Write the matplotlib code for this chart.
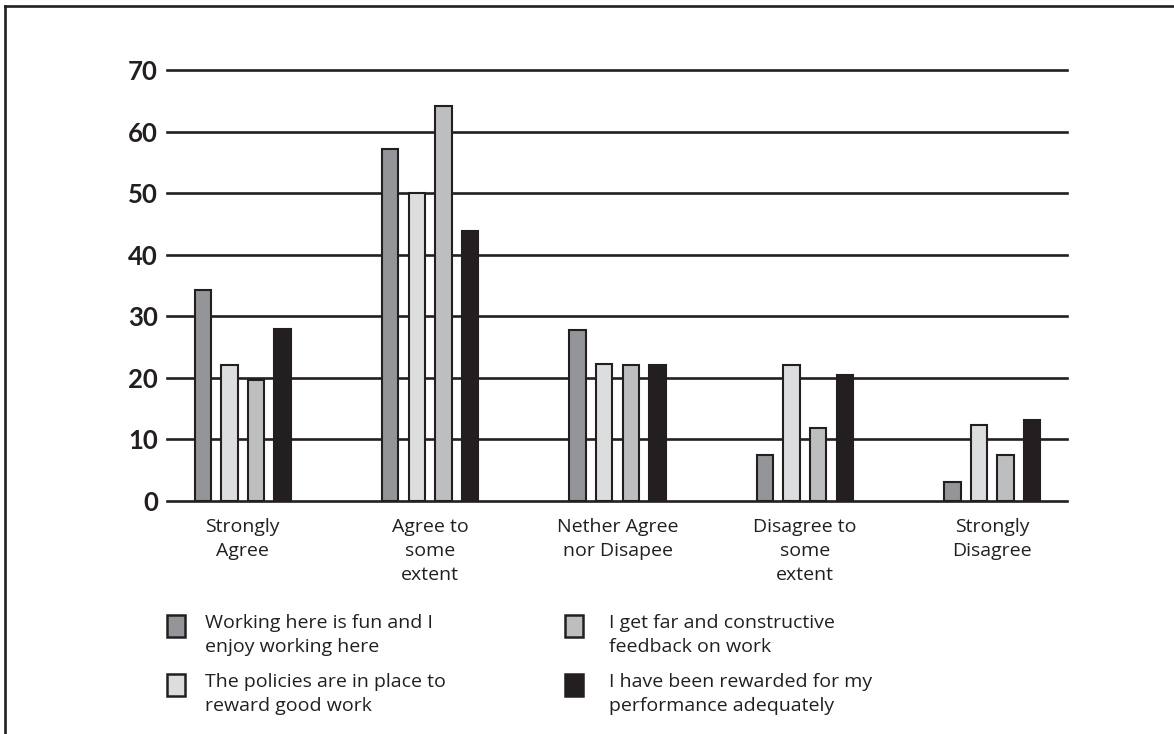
import numpy as np
import matplotlib
matplotlib.use('Agg')
import matplotlib.pyplot as plt
from matplotlib.patches import Rectangle
from matplotlib.lines import Line2D

# Survey responses (% of staff) per statement
categories = ['Strongly\nAgree', 'Agree to\nsome\nextent', 'Nether Agree\nnor Disapee',
              'Disagree to\nsome\nextent', 'Strongly\nDisagree']
fun_at_work = [34.2, 57.2, 27.7, 7.5, 3.1]
policies_reward = [22.1, 50.0, 22.3, 22.1, 12.4]
fair_feedback = [19.7, 64.2, 22.1, 11.9, 7.5]
rewarded_adequately = [27.9, 43.8, 22.1, 20.4, 13.1]
y_ticks = [0, 10, 20, 30, 40, 50, 60, 70]

series = [
    ('Working here is fun and I\nenjoy working here', fun_at_work, '#939598'),
    ('The policies are in place to\nreward good work', policies_reward, '#dcddde'),
    ('I get far and constructive\nfeedback on work', fair_feedback, '#bcbec0'),
    ('I have been rewarded for my\nperformance adequately', rewarded_adequately, '#231f20'),
]

INK = '#231f20'
W, H = 1174, 734
TEXT_FONT = ['Open Sans', 'Liberation Sans', 'DejaVu Sans']
NUM_FONT = ['Lato', 'DejaVu Sans']


def fx(px):
    return px / W


def fy(py):
    return 1 - py / H


fig = plt.figure(figsize=(W / 100, H / 100), dpi=100)
ax = fig.add_axes([fx(167), fy(501), fx(1066.7) - fx(167), fy(70) - fy(501)])

x = np.arange(len(categories))
pitch = 0.142
width = 0.088
for i, (label, vals, color) in enumerate(series):
    ax.bar(x + (i - 1.5) * pitch, vals, width, color=color, edgecolor=INK,
           linewidth=1.5, zorder=3)

for t in y_ticks:
    ax.axhline(t, color=INK, linewidth=1.9, zorder=1, clip_on=False)

ax.set_xlim(-0.404, 4.397)
ax.set_ylim(0, 70)
for s in ax.spines.values():
    s.set_visible(False)

ax.set_yticks(y_ticks)
ax.set_yticklabels([str(t) for t in y_ticks], family=NUM_FONT, fontsize=18.5,
                   weight='bold', color=INK)
ax.tick_params(axis='y', length=0, pad=6.5)

ax.set_xticks(x)
ax.set_xticklabels(categories, family=TEXT_FONT, fontsize=14, color=INK,
                   linespacing=1.45)
ax.tick_params(axis='x', length=0, pad=12)

# Legend: two columns, swatch aligned with first text line
legend_cols = [(167, 205), (565, 609)]
legend_rows = [615, 674]
for k, (label, vals, color) in enumerate(series):
    col, row = divmod(k, 2)
    sx, tx = legend_cols[col]
    sy = legend_rows[row]
    fig.add_artist(Rectangle((fx(sx), fy(sy + 22)), fx(18), 22 / H,
                             facecolor=color, edgecolor=INK, linewidth=1.8,
                             transform=fig.transFigure))
    fig.text(fx(tx), fy(sy - 1), label, family=TEXT_FONT, fontsize=14,
             color=INK, ha='left', va='top', linespacing=1.45)

# Outer frame (left and top edges)
fig.add_artist(Line2D([fx(5.3), fx(5.3)], [0, fy(5.5)], color=INK, linewidth=1.9,
                      transform=fig.transFigure))
fig.add_artist(Line2D([fx(5.3), 1], [fy(5.5), fy(5.5)], color=INK, linewidth=1.9,
                      transform=fig.transFigure))

fig.savefig('out.png', dpi=100, facecolor='white')
